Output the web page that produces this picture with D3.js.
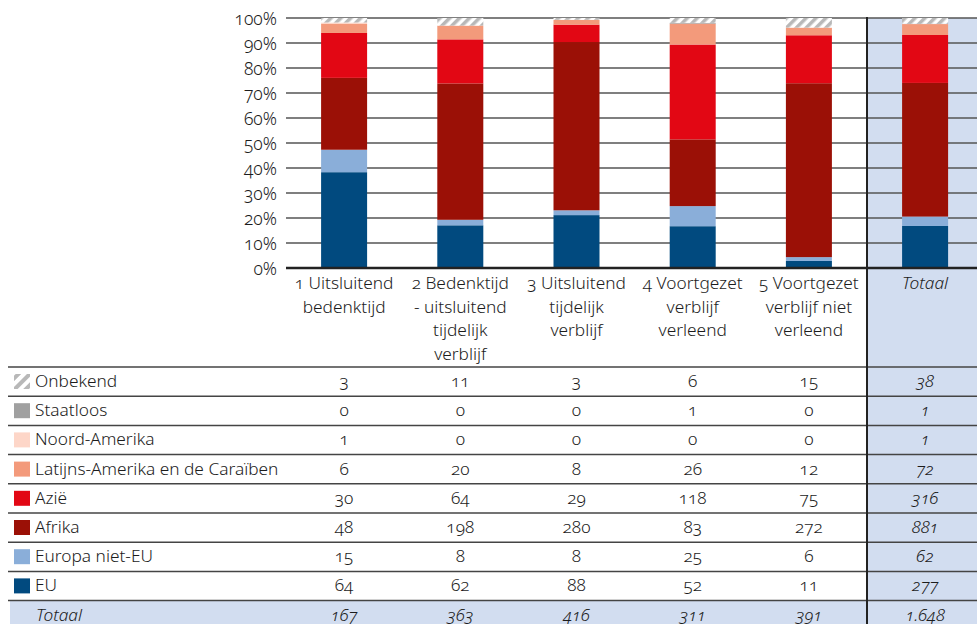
<!DOCTYPE html>
<html>
<head>
<meta charset="utf-8">
<script src="https://cdn.jsdelivr.net/npm/d3@7"></script>
<style>
  body { margin: 0; background: #fff; }
  svg text { font-family: "Noto Sans", sans-serif; font-size: 17.3px; font-weight: 300; fill: #1c1c1c; font-feature-settings: "onum" 1; }
</style>
</head>
<body>
<div id="chart"></div>
<script>
let width = 977;
let height = 624;

// columns (last one is the total column)
let columns = ["1 Uitsluitend bedenktijd", "2 Bedenktijd - uitsluitend tijdelijk verblijf", "3 Uitsluitend tijdelijk verblijf", "4 Voortgezet verblijf verleend", "5 Voortgezet verblijf niet verleend", "Totaal"];
let columnLines = [
    ["1 Uitsluitend", "bedenktijd"],
    ["2 Bedenktijd", "- uitsluitend", "tijdelijk", "verblijf"],
    ["3 Uitsluitend", "tijdelijk", "verblijf"],
    ["4 Voortgezet", "verblijf", "verleend"],
    ["5 Voortgezet", "verblijf niet", "verleend"],
    ["Totaal"]
];

// series, bottom of the stack first
let series = ["EU", "Europa niet-EU", "Afrika", "Azië", "Latijns-Amerika en de Caraïben", "Noord-Amerika", "Staatloos", "Onbekend"];
let eu = [64, 62, 88, 52, 11, 277];
let europaNietEu = [15, 8, 8, 25, 6, 62];
let afrika = [48, 198, 280, 83, 272, 881];
let azie = [30, 64, 29, 118, 75, 316];
let latijnsAmerika = [6, 20, 8, 26, 12, 72];
let noordAmerika = [1, 0, 0, 0, 0, 1];
let staatloos = [0, 0, 0, 1, 0, 1];
let onbekend = [3, 11, 3, 6, 15, 38];
let totaal = [167, 363, 416, 311, 391, 1648];

let seriesValues = [eu, europaNietEu, afrika, azie, latijnsAmerika, noordAmerika, staatloos, onbekend];

let colors = d3.scaleOrdinal()
    .domain(series)
    .range(["#014a7f", "#8aaed9", "#9b1006", "#e20714", "#f39a7b", "#fdd6c8", "#a0a0a0", "url(#hatch)"]);

let yTicks = [0, 0.1, 0.2, 0.3, 0.4, 0.5, 0.6, 0.7, 0.8, 0.9, 1];

let nl = d3.formatLocale({decimal: ",", thousands: ".", grouping: [3], currency: ["€", ""]});
let fmt = nl.format(",d");

// build one row per column for d3.stack
let rows = columns.map(function(c, i) {
    let r = {col: c};
    series.forEach(function(s, j) { r[s] = seriesValues[j][i] / totaal[i]; });
    return r;
});
let stacked = d3.stack().keys(series)(rows);

let plotLeft = 286, colStep = 116.2, barWidth = 46;
let plotTop = 18, plotBase = 268;

let x = d3.scaleBand()
    .domain(columns)
    .range([plotLeft, plotLeft + colStep * columns.length])
    .padding(0);

let y = d3.scaleLinear().domain([0, 1]).range([plotBase, plotTop]);

let tableRows = series.slice().reverse().concat(["Totaal"]);
let rowY = d3.scaleBand().domain(tableRows).range([367, 367 + 29.2 * tableRows.length]);

let svg = d3.select("#chart").append("svg")
    .attr("width", width)
    .attr("height", height);

let defs = svg.append("defs");
function hatch(id, size) {
    let p = defs.append("pattern")
        .attr("id", id)
        .attr("patternUnits", "userSpaceOnUse")
        .attr("width", size).attr("height", size)
        .attr("patternTransform", "rotate(45)");
    p.append("rect").attr("width", size).attr("height", size).attr("fill", "#fff");
    p.append("rect").attr("width", size / 2).attr("height", size).attr("fill", "#b8b8b8");
}
hatch("hatch", 7);
hatch("hatchLegend", 8);

let totX = x("Totaal");

// Totaal column and row backgrounds
svg.append("rect")
    .attr("x", totX).attr("y", plotTop)
    .attr("width", width - totX).attr("height", height - plotTop)
    .attr("fill", "#d2ddf0");
svg.append("rect")
    .attr("x", 10).attr("y", rowY("Totaal"))
    .attr("width", width - 10).attr("height", rowY.bandwidth())
    .attr("fill", "#d2ddf0");

// gridlines
svg.append("g").selectAll("line")
    .data(yTicks.filter(d => d > 0))
    .join("line")
    .attr("x1", plotLeft).attr("x2", width)
    .attr("y1", d => y(d)).attr("y2", d => y(d))
    .attr("stroke", "#555").attr("stroke-width", 1.5);

// y axis labels
let yAxis = d3.axisLeft(y).tickValues(yTicks).tickFormat(d3.format(".0%")).tickSize(0).tickPadding(9);
svg.append("g")
    .attr("transform", "translate(" + plotLeft + ",0)")
    .call(yAxis)
    .call(g => g.select(".domain").remove())
    .selectAll("text")
    .attr("dy", "0.36em")
    .style("font-size", "17.5px")
    .style("font-family", "\"Noto Sans\", sans-serif")
    .attr("fill", "#1c1c1c");

// stacked bars
svg.append("g").selectAll("g")
    .data(stacked)
    .join("g")
    .attr("fill", d => colors(d.key))
    .selectAll("rect")
    .data(d => d)
    .join("rect")
    .attr("x", d => x(d.data.col) + (x.bandwidth() - barWidth) / 2)
    .attr("y", d => y(d[1]))
    .attr("width", barWidth)
    .attr("height", d => y(d[0]) - y(d[1]));

// baseline
svg.append("line")
    .attr("x1", plotLeft).attr("x2", width)
    .attr("y1", plotBase).attr("y2", plotBase)
    .attr("stroke", "#222").attr("stroke-width", 2.5);

// column headers
let heads = svg.append("g").selectAll("text")
    .data(columns)
    .join("text")
    .attr("x", d => x(d) + x.bandwidth() / 2)
    .attr("y", 289)
    .attr("text-anchor", "middle")
    .style("font-style", d => d === "Totaal" ? "italic" : "normal");
heads.selectAll("tspan")
    .data((d, i) => columnLines[i])
    .join("tspan")
    .attr("x", function() { return this.parentNode.getAttribute("x"); })
    .attr("dy", (d, i) => i === 0 ? 0 : 23.5)
    .text(d => d);

// table row separators
svg.append("g").selectAll("line")
    .data(tableRows)
    .join("line")
    .attr("x1", 8).attr("x2", width)
    .attr("y1", d => rowY(d)).attr("y2", d => rowY(d))
    .attr("stroke", "#444").attr("stroke-width", 1.5);

// legend swatches + labels
let legend = svg.append("g").selectAll("g")
    .data(tableRows)
    .join("g")
    .attr("transform", d => "translate(0," + rowY(d) + ")");
legend.filter(d => d !== "Totaal").append("rect")
    .attr("x", 14).attr("y", 7)
    .attr("width", 16).attr("height", 15)
    .attr("fill", d => d === "Onbekend" ? "url(#hatchLegend)" : colors(d));
legend.append("text")
    .attr("x", d => d === "Totaal" ? 36 : 35)
    .attr("y", 20)
    .style("font-style", d => d === "Totaal" ? "italic" : "normal")
    .text(d => d);

// table values
let valueOf = function(rowKey, i) {
    if (rowKey === "Totaal") return totaal[i];
    return seriesValues[series.indexOf(rowKey)][i];
};
let cells = [];
tableRows.forEach(function(r) {
    columns.forEach(function(c, i) { cells.push({row: r, col: c, v: valueOf(r, i)}); });
});
svg.append("g").selectAll("text")
    .data(cells)
    .join("text")
    .attr("x", d => x(d.col) + x.bandwidth() / 2)
    .attr("y", d => rowY(d.row) + 20)
    .attr("text-anchor", "middle")
    .style("font-style", d => (d.row === "Totaal" || d.col === "Totaal") ? "italic" : "normal")
    .text(d => fmt(d.v));

// divider in front of the Totaal column
svg.append("line")
    .attr("x1", totX).attr("x2", totX)
    .attr("y1", plotTop - 1).attr("y2", height)
    .attr("stroke", "#222").attr("stroke-width", 2);
</script>
</body>
</html>
